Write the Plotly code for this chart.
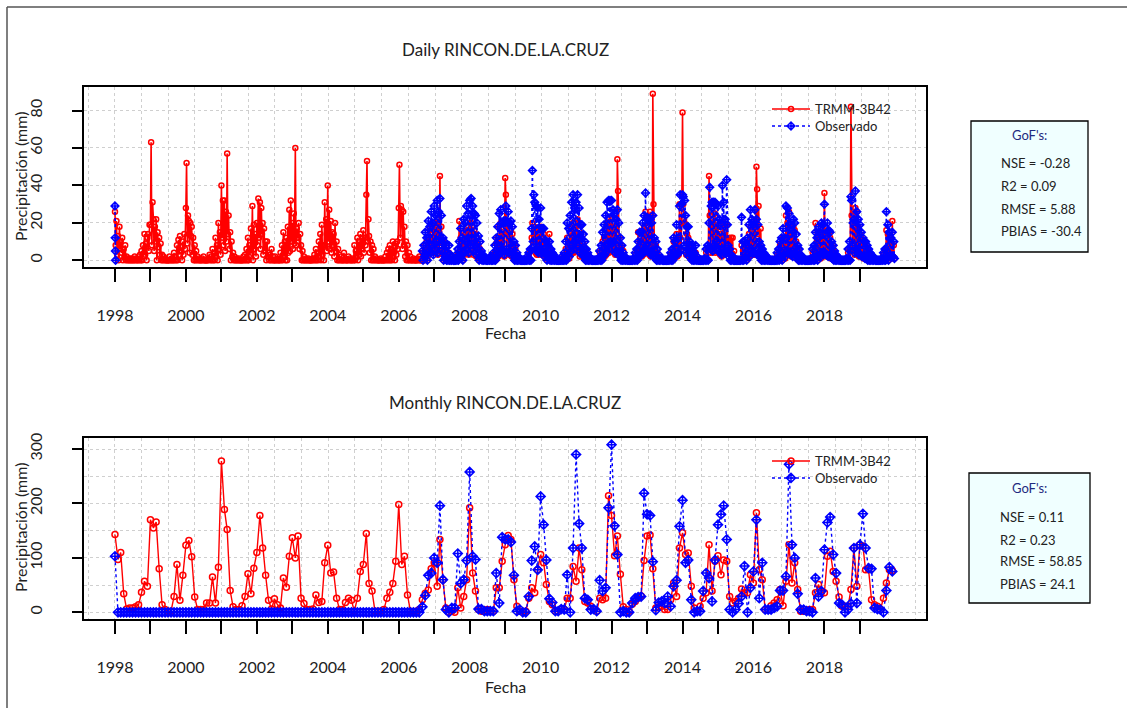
import pandas as pd
import plotly.graph_objects as go

# ---------------- data ----------------
station = "RINCON.DE.LA.CRUZ"
sim_name = "TRMM-3B42"
obs_name = "Observado"
year_ticks = list(range(1998, 2020))
year_labels = [str(y) if y % 2 == 0 else "" for y in year_ticks]

gof_labels = ["NSE", "R2", "RMSE", "PBIAS"]
gof_daily = ["-0.28", "0.09", "5.88", "-30.4"]
gof_monthly = ["0.11", "0.23", "58.85", "24.1"]

# monthly totals (mm), Jan 1998 .. Dec 2019, one row per year
trmm_monthly = [
    143, 97, 110, 34, 6, 8, 8, 10, 14, 37, 57, 48,
    170, 155, 166, 80, 14, 5, 2, 2, 29, 88, 22, 68,
    123, 132, 102, 28, 5, 5, 5, 17, 17, 65, 17, 83,
    278, 189, 152, 40, 10, 5, 5, 12, 29, 71, 34, 81,
    110, 178, 118, 68, 22, 6, 25, 14, 8, 63, 46, 103,
    137, 100, 140, 26, 16, 5, 5, 6, 32, 18, 20, 91,
    123, 72, 74, 26, 5, 5, 18, 26, 22, 2, 26, 75,
    88, 145, 53, 39, 2, 2, 2, 5, 26, 37, 53, 94,
    198, 88, 103, 32, 2, 0, 2, 5, 23, 35, 41, 80,
    91, 48, 134, 60, 8, 0, 2, 0, 45, 8, 29, 60,
    192, 72, 39, 5, 2, 2, 5, 2, 2, 45, 45, 94,
    124, 141, 134, 60, 11, 2, 0, 2, 26, 45, 36, 78,
    106, 91, 51, 20, 14, 2, 2, 6, 5, 26, 26, 84,
    57, 118, 78, 20, 17, 11, 5, 2, 26, 23, 26, 214,
    178, 104, 140, 70, 10, 5, 2, 15, 20, 26, 30, 95,
    140, 142, 80, 8, 10, 11, 5, 5, 23, 54, 29, 118,
    146, 106, 109, 48, 8, 2, 11, 26, 36, 124, 39, 94,
    104, 69, 96, 94, 29, 17, 20, 26, 43, 36, 36, 69,
    54, 183, 78, 60, 5, 5, 12, 17, 23, 42, 12, 57,
    124, 54, 91, 42, 2, 2, 2, 5, 5, 36, 51, 37,
    36, 103, 112, 75, 57, 28, 11, 11, 10, 42, 118, 48,
    124, 122, 78, 78, 23, 14, 11, 5, 26, 54, 78, 77,
]
obs_monthly = [
    103, 0, 0, 0, 0, 0, 0, 0, 0, 0, 0, 0,
    0, 0, 0, 0, 0, 0, 0, 0, 0, 0, 0, 0,
    0, 0, 0, 0, 0, 0, 0, 0, 0, 0, 0, 0,
    0, 0, 0, 0, 0, 0, 0, 0, 0, 0, 0, 0,
    0, 0, 0, 0, 0, 0, 0, 0, 0, 0, 0, 0,
    0, 0, 0, 0, 0, 0, 0, 0, 0, 0, 0, 0,
    0, 0, 0, 0, 0, 0, 0, 0, 0, 0, 0, 0,
    0, 0, 0, 0, 0, 0, 0, 0, 0, 0, 0, 0,
    0, 0, 0, 0, 0, 0, 0, 0, 10, 31, 68, 72,
    100, 91, 196, 60, 5, 0, 8, 8, 108, 53, 60, 95,
    258, 103, 97, 6, 6, 2, 2, 2, 2, 72, 17, 138,
    134, 134, 129, 68, 2, 5, 0, 0, 29, 95, 121, 78,
    213, 161, 96, 25, 18, 2, 2, 6, 5, 69, 0, 118,
    290, 163, 118, 26, 23, 5, 6, 2, 59, 39, 45, 192,
    308, 159, 106, 0, 2, 0, 0, 17, 26, 28, 29, 219,
    180, 178, 93, 4, 18, 20, 17, 29, 11, 48, 59, 158,
    206, 91, 96, 23, 0, 2, 2, 39, 72, 63, 20, 96,
    161, 180, 196, 134, 5, 0, 5, 16, 29, 85, 0, 45,
    75, 170, 26, 91, 5, 5, 5, 8, 11, 40, 40, 66,
    272, 124, 100, 34, 5, 5, 2, 2, 0, 63, 29, 39,
    115, 165, 175, 106, 72, 17, 14, 0, 5, 16, 118, 17,
    124, 181, 118, 81, 80, 8, 6, 5, 0, 40, 83, 75,
]

# daily precipitation (mm), sampled on days 1, 8, 16, 23 of every month
trmm_daily = [
    26,8,21,3, 13,0,18,6, 10,4,12,0, 6,2,8,0, 2,0,1,0, 0,1,0,0, 1,0,0,2, 0,1,0,0, 2,0,3,0, 5,0,8,2, 14,3,9,0, 12,14,5,19,
    19,63,8,31, 22,5,18,10, 22,0,15,7, 12,3,9,0, 3,0,2,0, 1,0,0,0, 0,0,2,0, 0,1,0,0, 4,0,2,0, 8,0,11,3, 13,5,7,0, 10,3,14,6,
    28,52,9,24, 21,4,20,13, 18,3,12,0, 8,0,5,0, 2,0,1,0, 0,0,1,0, 2,0,0,0, 0,0,0,1, 3,0,2,0, 6,0,4,0, 12,2,8,0, 20,6,15,3,
    40,12,32,8, 32,5,26,10, 57,14,24,6, 15,0,10,2, 4,0,2,0, 0,1,0,0, 1,0,0,0, 0,0,2,0, 3,0,6,0, 12,0,8,3, 17,4,29,0, 19,6,14,2,
    20,8,33,12, 31,6,28,14, 20,3,17,5, 10,0,10,2, 4,0,3,0, 6,0,2,0, 0,2,0,0, 1,0,0,0, 4,0,8,0, 15,2,10,0, 12,0,18,4, 27,5,32,10,
    20,6,25,9, 60,8,17,12, 12,20,6,14, 8,0,5,0, 2,0,0,1, 0,0,1,0, 0,0,0,0, 1,0,3,0, 6,0,4,0, 10,2,14,0, 19,3,8,0, 31,8,22,5,
    40,10,27,6, 21,4,15,8, 14,2,20,5, 10,0,6,0, 3,0,2,0, 0,0,4,0, 1,0,0,0, 2,0,1,0, 0,0,1,0, 8,0,5,2, 12,0,10,3, 14,2,12,6,
    16,4,12,8, 35,53,10,22, 13,4,10,0, 8,0,6,0, 2,0,1,0, 0,0,0,0, 1,0,0,0, 0,0,2,0, 4,0,6,0, 8,0,6,0, 10,2,7,0, 9,3,10,6,
    28,51,12,29, 27,6,26,8, 18,2,10,0, 8,0,4,0, 2,0,0,0, 1,0,0,0, 0,0,1,0, 2,0,0,0, 4,0,3,0, 8,2,10,0, 12,3,16,5, 14,4,18,6,
    20,4,18,6, 22,3,20,5, 45,8,18,4, 10,0,8,1, 5,0,3,0, 4,0,2,0, 0,1,0,0, 1,0,2,0, 4,0,21,1, 12,2,9,0, 15,3,14,4, 18,6,16,3,
    22,4,20,8, 18,3,16,5, 14,2,12,4, 8,0,6,1, 3,0,2,0, 1,0,0,0, 0,0,0,0, 1,0,0,0, 3,0,4,0, 9,1,12,2, 18,3,20,4, 15,3,14,2,
    44,35,5,18, 20,3,16,4, 16,2,14,3, 8,0,6,0, 3,0,1,0, 0,0,0,0, 0,0,0,0, 0,0,1,0, 3,0,5,0, 12,20,8,16, 18,4,17,3, 17,3,14,4,
    18,3,12,3, 14,2,9,2, 8,0,6,1, 14,0,5,0, 3,0,2,0, 1,0,0,0, 0,0,0,0, 0,1,0,0, 3,0,6,0, 12,2,10,1, 15,3,17,4, 20,4,16,5,
    20,5,22,6, 16,2,12,3, 12,2,9,1, 6,0,4,0, 3,0,1,0, 0,0,0,0, 0,0,0,0, 0,0,1,0, 4,0,5,0, 10,1,12,2, 16,3,20,4, 22,4,20,5,
    22,5,18,6, 18,3,16,3, 54,37,12,3, 8,0,6,0, 5,0,2,0, 1,0,0,0, 0,0,0,0, 0,0,1,0, 3,0,5,0, 15,2,10,2, 12,2,15,3, 18,4,26,5,
    18,4,16,3, 26,2,15,3, 89,30,8,2, 8,0,4,0, 2,0,1,0, 0,0,0,0, 0,0,0,0, 0,0,1,0, 3,0,4,0, 10,1,8,2, 14,2,10,3, 30,12,5,20,
    79,30,22,20, 19,3,14,4, 12,2,8,2, 6,0,4,0, 3,0,4,0, 1,0,0,0, 0,0,0,0, 0,0,0,0, 4,0,6,0, 45,24,4,20, 22,4,20,5, 25,4,18,6,
    18,4,14,3, 14,2,20,4, 20,3,15,4, 19,11,6,12, 11,3,12,2, 12,0,5,0, 1,0,0,0, 0,0,0,0, 8,0,5,0, 6,1,5,0, 9,2,14,2, 18,3,15,3,
    14,3,20,4, 50,38,14,29, 8,2,17,0, 5,0,3,0, 2,0,1,0, 0,0,0,0, 0,0,0,0, 0,0,0,0, 3,0,4,0, 8,1,9,0, 12,2,9,1, 24,4,20,3,
    26,3,16,2, 14,2,18,3, 16,2,10,1, 6,0,4,0, 2,0,1,0, 0,0,0,0, 0,0,0,0, 0,0,1,0, 4,0,5,0, 20,1,10,0, 14,2,12,1, 16,3,15,2,
    36,3,10,2, 16,2,14,2, 12,1,8,1, 6,0,4,0, 2,0,1,0, 0,0,0,0, 0,0,0,0, 0,0,0,0, 4,0,6,0, 82,24,6,16, 18,3,28,4, 26,3,18,2,
    14,2,12,2, 10,1,8,1, 8,1,6,0, 5,0,3,0, 2,0,1,0, 0,0,0,0, 0,0,0,0, 0,0,0,0, 3,0,5,0, 16,1,14,0, 12,2,10,1, 21,2,8,1,
]

# observed daily: a few days in Jan 1998, then the record from Sep 2006
obs_daily_1998_dates = ["1998-01-01", "1998-01-03", "1998-01-05", "1998-01-07"]
obs_daily_1998 = [29, 12, 5, 0]
obs_daily = [
    5,0,8,2, 15,3,12,0, 21,5,18,4, 26,8,20,3,
    29,6,24,10, 32,4,26,8, 33,12,24,5, 12,0,10,2, 8,0,4,0, 8,0,3,0, 0,2,0,0, 0,0,3,0, 6,0,10,2, 17,3,12,0, 22,4,20,6, 29,10,25,4,
    32,8,33,12, 29,5,25,8, 24,3,20,6, 13,0,10,2, 5,0,3,0, 2,0,1,0, 0,0,1,0, 2,0,0,0, 4,0,8,0, 12,2,18,3, 25,4,27,6, 20,5,21,3,
    20,29,6,21, 26,4,20,5, 21,3,18,4, 10,0,8,0, 4,0,2,0, 1,0,0,0, 0,0,0,0, 0,0,2,0, 4,0,6,0, 17,48,10,35, 31,6,29,5, 28,4,22,6,
    28,5,17,4, 17,2,11,3, 10,0,8,2, 10,0,6,0, 4,0,3,0, 1,0,0,0, 0,0,0,0, 0,2,0,0, 4,0,10,0, 20,3,17,2, 24,5,31,8, 35,6,28,10,
    31,8,35,12, 28,4,19,6, 19,3,14,2, 10,0,6,0, 4,0,2,0, 1,0,0,0, 0,0,0,0, 0,0,1,0, 5,0,8,0, 15,2,19,3, 24,5,31,8, 32,6,32,10,
    32,9,27,10, 25,4,22,5, 27,3,20,4, 12,0,8,0, 4,0,2,0, 1,0,0,0, 0,0,0,0, 0,0,1,0, 4,0,6,0, 10,2,15,3, 15,3,20,4, 24,6,36,8,
    23,5,22,4, 22,3,20,4, 24,2,12,2, 10,0,6,0, 3,0,1,0, 1,0,0,0, 0,0,0,0, 0,0,1,0, 4,0,6,0, 12,2,10,3, 19,3,12,4, 29,35,6,30,
    35,34,8,32, 24,4,18,6, 18,2,10,3, 8,0,5,0, 4,0,8,0, 2,0,0,0, 0,0,0,0, 0,0,1,0, 6,0,8,0, 20,39,6,29, 31,5,31,8, 31,6,30,10,
    29,5,22,4, 20,3,40,6, 31,4,22,5, 43,19,8,2, 6,0,3,0, 2,0,0,0, 0,0,0,0, 0,0,0,0, 23,0,10,0, 10,2,8,0, 12,3,19,2, 27,5,22,4,
    19,4,27,5, 22,3,19,4, 10,2,8,0, 6,0,4,0, 3,0,2,0, 1,0,0,0, 0,0,0,0, 0,0,0,0, 4,0,6,0, 10,2,12,0, 17,3,12,2, 29,5,28,4,
    25,4,19,3, 16,2,22,4, 20,3,14,2, 8,0,6,0, 3,0,2,0, 1,0,0,0, 0,0,0,0, 0,0,1,0, 6,0,8,0, 15,2,12,0, 18,3,15,2, 20,4,19,3,
    30,4,13,3, 20,2,16,3, 15,2,10,1, 8,0,5,0, 3,0,2,0, 1,0,0,0, 0,0,0,0, 0,0,1,0, 6,0,10,0, 34,32,8,20, 22,4,37,6, 26,4,22,3,
    19,3,15,2, 12,2,10,1, 10,1,8,0, 6,0,4,0, 3,0,2,0, 1,0,0,0, 0,0,0,0, 0,0,1,0, 4,0,6,0, 26,2,19,0, 15,3,12,2, 15,2,10,1,
]

# ---------------- dates ----------------
month_starts = pd.date_range("1998-01-01", "2019-12-01", freq="MS")
sample_days = [0, 7, 15, 22]
trmm_daily_dates = [m + pd.Timedelta(days=d) for m in month_starts for d in sample_days]
obs_months = pd.date_range("2006-09-01", "2019-12-01", freq="MS")
obs_daily_dates = [m + pd.Timedelta(days=d) for m in obs_months for d in sample_days]
obs_x = list(pd.to_datetime(obs_daily_1998_dates)) + [pd.Timestamp("1998-01-10")] + obs_daily_dates
obs_y = obs_daily_1998 + [None] + obs_daily

# ---------------- layout helpers ----------------
W, H = 1127, 708
FONT = "Lato"
TXT = "#222222"
GRID = "#cfcfcf"


def fx(px):
    return px / W


def fy(py):
    return 1 - py / H


RED = "red"
BLUE = "blue"


def red_style(size, lw):
    return dict(line=dict(color=RED, width=lw),
                marker=dict(symbol="circle-open", size=size, color=RED, line=dict(width=1.5, color=RED)))


def blue_style(size, lw):
    return dict(line=dict(color=BLUE, width=lw, dash="dot"),
                marker=dict(symbol="diamond-cross-open", size=size, color=BLUE, line=dict(width=1.5, color=BLUE)))


fig = go.Figure()
fig.add_trace(go.Scatter(x=trmm_daily_dates, y=trmm_daily, mode="lines+markers", name=sim_name,
                         xaxis="x", yaxis="y", legend="legend", **red_style(5, 1.6)))
fig.add_trace(go.Scatter(x=obs_x, y=obs_y, mode="lines+markers", name=obs_name, connectgaps=False,
                         xaxis="x", yaxis="y", legend="legend2", **blue_style(6, 1.6)))
fig.add_trace(go.Scatter(x=month_starts, y=trmm_monthly, mode="lines+markers", name=sim_name,
                         xaxis="x2", yaxis="y2", legend="legend3", **red_style(6, 1.4)))
fig.add_trace(go.Scatter(x=month_starts, y=obs_monthly, mode="lines+markers", name=obs_name,
                         xaxis="x2", yaxis="y2", legend="legend4", **blue_style(7, 1.4)))

xrange = ["1997-02-16", "2020-11-12"]
tickdates = [f"{y}-01-01" for y in year_ticks]
GRID_STEP_MS = 274.6 * 86400000


def xaxis_cfg(anchor):
    return dict(
        domain=[fx(84), fx(926)], range=xrange, type="date", anchor=anchor,
        tickmode="array", tickvals=tickdates, ticktext=year_labels,
        ticks="outside", ticklen=13, tickwidth=1.5, tickcolor="black",
        ticklabelstandoff=20,
        tickfont=dict(family=FONT, size=16, color=TXT),
        showline=True, mirror=True, linecolor="black", linewidth=1.6,
        showgrid=False, zeroline=False, automargin=False,
        minor=dict(tickmode="linear", tick0="1998-01-01", dtick=GRID_STEP_MS, showgrid=True,
                   gridcolor=GRID, griddash="dot", gridwidth=1, ticks=""),
    )


def yaxis_cfg(anchor, dom, rng, dtick, minor_dtick):
    return dict(
        domain=dom, range=rng, anchor=anchor,
        tickmode="linear", tick0=0, dtick=dtick, tickangle=-90,
        ticks="outside", ticklen=10, tickwidth=1.5, tickcolor="black",
        ticklabelstandoff=24,
        tickfont=dict(family=FONT, size=16, color=TXT),
        showline=True, mirror=True, linecolor="black", linewidth=1.6,
        showgrid=True, gridcolor=GRID, griddash="dot", gridwidth=1,
        zeroline=False, automargin=False,
        minor=dict(tickmode="linear", tick0=0, dtick=minor_dtick, showgrid=True,
                   gridcolor=GRID, griddash="dot", gridwidth=1, ticks=""),
    )


def legend_cfg(row_center_y):
    return dict(x=fx(767), y=fy(row_center_y - 14), xanchor="left", yanchor="top",
                bgcolor="rgba(0,0,0,0)", font=dict(family=FONT, size=13, color=TXT),
                itemwidth=38, tracegroupgap=0)


fig.update_layout(
    width=W, height=H, autosize=False,
    margin=dict(l=0, r=0, t=0, b=0),
    paper_bgcolor="white", plot_bgcolor="white",
    font=dict(family=FONT, color=TXT),
    xaxis=xaxis_cfg("y"),
    yaxis=yaxis_cfg("x", [fy(267), fy(87)], [-3.56, 92.56], 20, 20),
    xaxis2=xaxis_cfg("y2"),
    yaxis2=yaxis_cfg("x2", [fy(619), fy(438)], [-12.3, 320.3], 100, 50),
    legend=legend_cfg(108),
    legend2=legend_cfg(125),
    legend3=legend_cfg(460),
    legend4=legend_cfg(477),
    showlegend=True,
)

ann = []
shapes = []
# panel titles and axis titles
for title, ty, fy_lab in [("Daily " + station, 49, 332), ("Monthly " + station, 402, 686)]:
    ann.append(dict(text=title, x=fx(505.5), y=fy(ty), xref="paper", yref="paper", showarrow=False,
                    xanchor="center", yanchor="middle", font=dict(family=FONT, size=17, color=TXT)))
    ann.append(dict(text="Fecha", x=fx(505), y=fy(fy_lab), xref="paper", yref="paper", showarrow=False,
                    xanchor="center", yanchor="middle", font=dict(family=FONT, size=16, color=TXT)))
for cy in [177, 528]:
    ann.append(dict(text="Precipitación (mm)", x=fx(20), y=fy(cy), xref="paper", yref="paper",
                    showarrow=False, textangle=-90, xanchor="center", yanchor="middle",
                    font=dict(family=FONT, size=16, color=TXT)))

# GoF boxes
for vals, (bx0, by0, bx1, by1), ytitle, ylines, xtext in [
    (gof_daily, (971, 121, 1088, 252), 135, [163, 186, 209, 231], 999),
    (gof_monthly, (969, 473, 1090, 603), 488, [517, 540, 561, 584], 998),
]:
    shapes.append(dict(type="rect", xref="paper", yref="paper", x0=fx(bx0), x1=fx(bx1), y0=fy(by1), y1=fy(by0),
                       fillcolor="#F0FFFF", line=dict(color="black", width=1.3), layer="above"))
    ann.append(dict(text="GoF's:", x=fx((bx0 + bx1) / 2), y=fy(ytitle), xref="paper", yref="paper",
                    showarrow=False, xanchor="center", yanchor="middle",
                    font=dict(family=FONT, size=13, color="#1f2a80")))
    for lab, v, yy in zip(gof_labels, vals, ylines):
        ann.append(dict(text=f"{lab} = {v}", x=fx(xtext), y=fy(yy), xref="paper", yref="paper",
                        showarrow=False, xanchor="left", yanchor="middle",
                        font=dict(family=FONT, size=13, color=TXT)))

# outer window frame
shapes.append(dict(type="line", xref="paper", yref="paper", x0=fx(7), x1=1, y0=fy(7), y1=fy(7),
                   line=dict(color="#555555", width=1.5)))
shapes.append(dict(type="line", xref="paper", yref="paper", x0=fx(7), x1=fx(7), y0=0, y1=fy(7),
                   line=dict(color="#555555", width=1.5)))

fig.update_layout(annotations=ann, shapes=shapes)
fig.write_html("out.html")
